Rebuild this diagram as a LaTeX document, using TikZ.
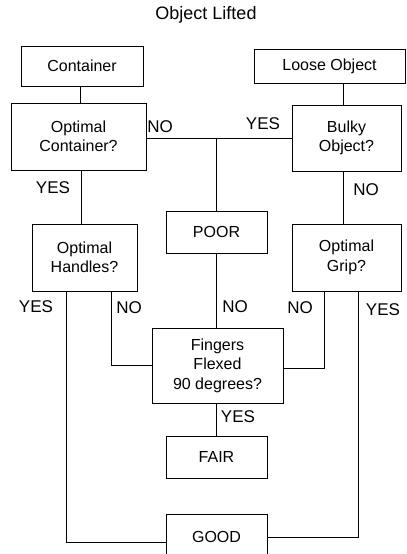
\documentclass[tikz,border=0pt]{standalone}
\usepackage{fontspec}
\setmainfont{Liberation Sans}
\usetikzlibrary{calc}
\begin{document}
\begin{tikzpicture}[x=1bp,y=-1bp,
  box/.style={draw,line width=0.9bp,rectangle,inner sep=0pt,align=center,
    font=\fontsize{16bp}{19.5bp}\selectfont},
  lbl/.style={font=\fontsize{17bp}{20bp}\selectfont,inner sep=0pt},
  conn/.style={line width=0.9bp}]
\clip (0,0) rectangle (406,554);
\node[lbl,font=\fontsize{18bp}{20bp}\selectfont] (title) at (206,15) {Object Lifted};
\node[box,minimum width=122bp,minimum height=40bp] (cont) at (82,66) {Container};
\node[box,minimum width=151bp,minimum height=34bp] (loose) at (329.5,66) {Loose Object};
\node[box,minimum width=135bp,minimum height=67bp] (optc) at (78.5,136.5) {Optimal\\Container?};
\node[box,minimum width=109bp,minimum height=66bp] (bulky) at (346.5,138) {Bulky\\Object?};
\node[box,minimum width=101bp,minimum height=42bp] (poor) at (216.5,232) {POOR};
\node[box,minimum width=105bp,minimum height=67bp] (hand) at (84.5,257.5) {Optimal\\Handles?};
\node[box,minimum width=109bp,minimum height=67bp] (grip) at (346.5,257.5) {Optimal\\Grip?};
\node[box,minimum width=131bp,minimum height=75bp] (fing) at (217.5,365.5) {Fingers\\Flexed\\90 degrees?};
\node[box,minimum width=101bp,minimum height=42bp] (fair) at (216.5,457) {FAIR};
\node[box,minimum width=101bp,minimum height=46bp] (good) at (216.5,537) {GOOD};
% connector start points
\coordinate (c1) at ($(cont.south)+(-2,0)$);
\coordinate (c2) at ($(loose.south)+(13.5,0)$);
\coordinate (hj) at ($(optc.east)+(0,1.5)$);
\coordinate (mj) at ($(hj)+(70,0)$);
\coordinate (c3) at ($(optc.south)+(2.5,0)$);
\coordinate (c4) at ($(bulky.south)+(-3.5,0)$);
\coordinate (c5) at ($(poor.south)+(-0.5,0)$);
\coordinate (c6) at ($(fing.south)+(-1.5,0)$);
\coordinate (hl) at ($(hand.south)+(-18.5,0)$);
\coordinate (hr) at ($(hand.south)+(26.5,0)$);
\coordinate (gl) at ($(grip.south)+(-22.5,0)$);
\coordinate (gr) at ($(grip.south)+(11.5,0)$);
% connectors
\draw[conn] (c1) -- (c1 |- optc.north);
\draw[conn] (c2) -- (c2 |- bulky.north);
\draw[conn] (hj) -- (hj -| bulky.west);
\draw[conn] (mj) -- (mj |- poor.north);
\draw[conn] (c3) -- (c3 |- hand.north);
\draw[conn] (c4) -- (c4 |- grip.north);
\draw[conn] (c5) -- (c5 |- fing.north);
\draw[conn] (c6) -- (c6 |- fair.north);
\draw[conn] (hl) -- (hl |- 0,542) -- (good.west |- 0,542);
\draw[conn] (hr) -- (hr |- 0,365) -- (fing.west |- 0,365);
\draw[conn] (gl) -- (gl |- 0,368) -- (fing.east |- 0,368);
\draw[conn] (gr) -- (gr |- 0,537) -- (good.east |- 0,537);
% labels
\node[lbl] (l1) at (160,127) {NO};
\node[lbl] (l2) at (263,124) {YES};
\node[lbl] (l3) at (53,188) {YES};
\node[lbl] (l4) at (366,190) {NO};
\node[lbl] (l5) at (235,307) {NO};
\node[lbl] (l6) at (36,307) {YES};
\node[lbl] (l7) at (129,308) {NO};
\node[lbl] (l8) at (300,308) {NO};
\node[lbl] (l9) at (383,310) {YES};
\node[lbl] (l10) at (238,417) {YES};
\end{tikzpicture}
\end{document}
